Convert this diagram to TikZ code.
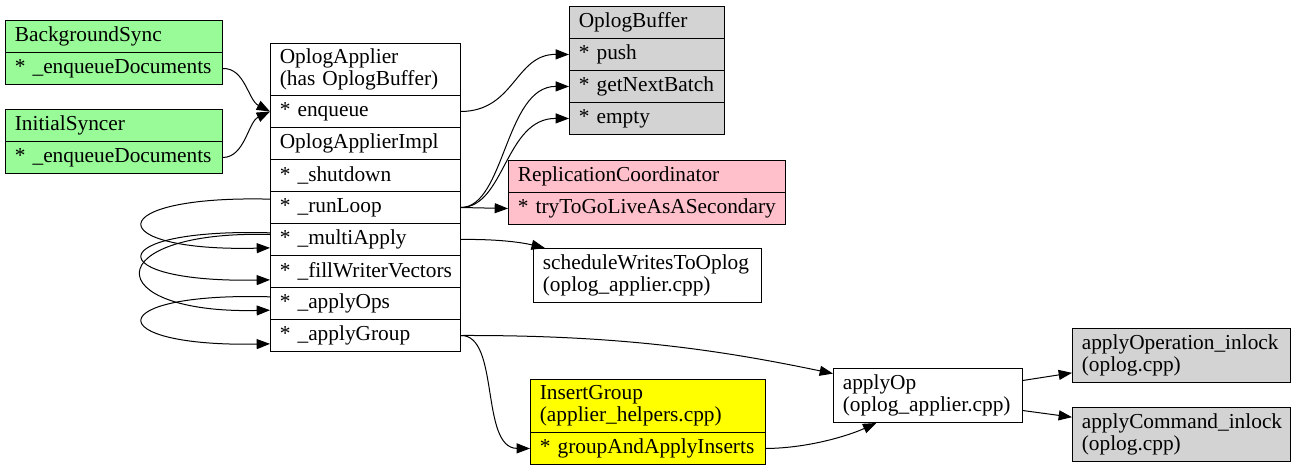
\documentclass[tikz,border=0pt]{standalone}
\usepackage{fontspec}
\setmainfont{Liberation Serif}
\usetikzlibrary{arrows.meta}
\definecolor{gGreen}{HTML}{98FB98}
\definecolor{gGrey}{HTML}{D3D3D3}
\definecolor{gPink}{HTML}{FFC0CB}
\definecolor{gYellow}{HTML}{FFFF00}
\begin{document}
\begin{tikzpicture}[x=0.75pt,y=-0.75pt,
  fld/.style 2 args={draw, line width=0.75pt, anchor=north west,
    minimum height=#2*0.75pt, text width=#1*0.75pt-14pt,
    inner xsep=7pt, inner ysep=0pt, align=left,
    font=\fontsize{16}{16.5}\selectfont,
    execute at begin node={\hyphenpenalty=10000\exhyphenpenalty=10000\hbadness=10000\hfuzz=50pt}},
  green/.style={fill=gGreen},
  grey/.style={fill=gGrey},
  pink/.style={fill=gPink},
  yell/.style={fill=gYellow},
  e/.style={draw, line width=0.75pt, -{Triangle[length=10pt,width=7.5pt]}}]
\useasboundingbox (0,0) rectangle (1298,471);

% BackgroundSync
\node[fld={217}{32}, green] (bg) at (5,20) {BackgroundSync};
\node[fld={217}{32}, green] (bgE) at (5,52) {*~\_enqueueDocuments};
% InitialSyncer
\node[fld={217}{32}, green] (is) at (5,109) {InitialSyncer};
\node[fld={217}{32}, green] (isE) at (5,141) {*~\_enqueueDocuments};

% OplogApplier
\node[fld={190}{52}] (oa) at (270,43) {OplogApplier\\(has OplogBuffer)};
\node[fld={190}{32}] (enq) at (270,95) {*~enqueue};
\node[fld={190}{32}] (impl) at (270,127) {OplogApplierImpl};
\node[fld={190}{32}] (shut) at (270,159) {*~\_shutdown};
\node[fld={190}{32}] (run) at (270,191) {*~\_runLoop};
\node[fld={190}{32}] (multi) at (270,223) {*~\_multiApply};
\node[fld={190}{32}] (fill) at (270,255) {*~\_fillWriterVectors};
\node[fld={190}{32}] (ops) at (270,287) {*~\_applyOps};
\node[fld={190}{32}] (grp) at (270,319) {*~\_applyGroup};

% OplogBuffer
\node[fld={155}{32}, grey] (ob) at (569,6) {OplogBuffer};
\node[fld={155}{32}, grey] (push) at (569,38) {*~push};
\node[fld={155}{32}, grey] (gnb) at (569,70) {*~getNextBatch};
\node[fld={155}{32}, grey] (emp) at (569,102) {*~empty};

% ReplicationCoordinator
\node[fld={277}{32}, pink] (rc) at (508,160) {ReplicationCoordinator};
\node[fld={277}{32}, pink] (trr) at (508,192) {*~tryToGoLiveAsASecondary};

% scheduleWritesToOplog
\node[fld={228}{54}] (sched) at (533,248) {scheduleWritesToOplog\\(oplog\_applier.cpp)};

% InsertGroup
\node[fld={235}{53}, yell] (ig) at (530,379) {InsertGroup\\(applier\_helpers.cpp)};
\node[fld={235}{32}, yell] (gai) at (530,432) {*~groupAndApplyInserts};

% applyOp
\node[fld={189}{54}] (aop) at (833,368) {applyOp\\(oplog\_applier.cpp)};

% applyOperation / applyCommand
\node[fld={218}{54}, grey] (aoi) at (1072,328) {applyOperation\_inlock\\(oplog.cpp)};
\node[fld={218}{54}, grey] (aci) at (1072,407) {applyCommand\_inlock\\(oplog.cpp)};

% edges
\draw[e] (bgE.east) .. controls (245,68) and (248,100) .. (enq.west);
\draw[e] (isE.east) .. controls (245,157) and (248,122) .. (enq.west);
\draw[e] (enq.east) .. controls (515,111) and (515,54) .. (push.west);
\draw[e] (run.east) .. controls (505,207) and (505,86) .. (gnb.west);
\draw[e] (run.east) .. controls (505,207) and (505,118) .. (emp.west);
\draw[e] (run.east) -- (trr.west);
\draw[e] (multi.east) .. controls (495,239) and (520,242) .. (sched.165);
\draw[e] (grp.east) .. controls (620,335) and (720,350) .. (aop.167);
\draw[e] (grp.east) .. controls (500,335) and (480,448) .. (gai.west);
\draw[e] (gai.east) .. controls (810,448) and (850,435) .. (aop.208);
\draw[e] (aop.9) -- (aoi.189);
\draw[e] (aop.351) -- (aci.171);

% self loops
\draw[e] (run.175) .. controls (100,195) and (100,252) .. (multi.185);
\draw[e] (multi.176) .. controls (100,228) and (100,283) .. (fill.185);
\draw[e] (multi.177) .. controls (98,230) and (98,314) .. (ops.184);
\draw[e] (ops.176) .. controls (100,292) and (100,347) .. (grp.185);
\end{tikzpicture}
\end{document}
